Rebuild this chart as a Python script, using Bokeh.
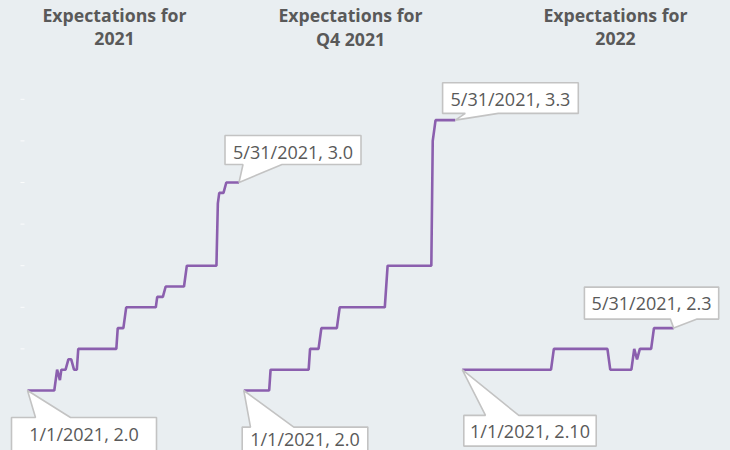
import pandas as pd
from bokeh.plotting import figure
from bokeh.models import Range1d
from bokeh.embed import file_html
from bokeh.resources import INLINE
from bokeh.core.properties import value

# ---------------- data ----------------
dates_2021 = ["2021-01-01", "2021-01-20", "2021-01-22", "2021-01-24", "2021-01-25", "2021-01-28",
              "2021-01-30", "2021-02-01", "2021-02-03", "2021-02-05", "2021-02-06", "2021-03-05",
              "2021-03-06", "2021-03-10", "2021-03-12", "2021-04-02", "2021-04-03", "2021-04-07",
              "2021-04-09", "2021-04-22", "2021-04-24", "2021-05-15", "2021-05-16", "2021-05-17",
              "2021-05-20", "2021-05-22", "2021-05-31"]
vals_2021 = [2.00, 2.00, 2.10, 2.05, 2.10, 2.10,
             2.15, 2.15, 2.10, 2.10, 2.20, 2.20,
             2.30, 2.30, 2.40, 2.40, 2.45, 2.45,
             2.50, 2.50, 2.60, 2.60, 2.90, 2.95,
             2.95, 3.00, 3.00]

dates_q4 = ["2021-01-01", "2021-01-19", "2021-01-20", "2021-02-16", "2021-02-17", "2021-02-23",
            "2021-02-25", "2021-03-08", "2021-03-10", "2021-04-11", "2021-04-13", "2021-05-14",
            "2021-05-15", "2021-05-17", "2021-05-31"]
vals_q4 = [2.00, 2.00, 2.10, 2.10, 2.20, 2.20,
           2.30, 2.30, 2.40, 2.40, 2.60, 2.60,
           3.20, 3.30, 3.30]

dates_2022 = ["2021-01-01", "2021-03-05", "2021-03-07", "2021-04-14", "2021-04-16", "2021-05-01",
              "2021-05-03", "2021-05-05", "2021-05-07", "2021-05-15", "2021-05-17", "2021-05-31"]
vals_2022 = [2.10, 2.10, 2.20, 2.20, 2.10, 2.10,
             2.20, 2.15, 2.20, 2.20, 2.30, 2.30]

title_line1 = "Expectations for"
title_line2 = ["2021", "Q4 2021", "2022"]
start_labels = ["1/1/2021, 2.0", "1/1/2021, 2.0", "1/1/2021, 2.10"]
end_labels = ["5/31/2021, 3.0", "5/31/2021, 3.3", "5/31/2021, 2.3"]
tick_values = [2.2, 2.4, 2.6, 2.8, 3.0, 3.2, 3.4]

# ---------------- layout ----------------
W, H = 730, 450
PX_DAY = 1.41
PX_UNIT = 208.0
BG = "#e9eef1"
PURPLE = "#8b5fae"
TXT = "#595959"
BORDER = "#c3c3c3"

START = pd.Timestamp("2021-01-01")
panel_px = [27.0, 243.3, 461.7]            # canvas px of Jan 1 for each panel
x0 = -panel_px[0] / PX_DAY
y_end = 2.0 + 390 / PX_UNIT
x_range = Range1d(x0, x0 + W / PX_DAY)
y_range = Range1d(y_end - H / PX_UNIT, y_end)


def px_to_data(cx, cy):
    return x0 + cx / PX_DAY, y_end - cy / PX_UNIT


def data_to_py(v):
    return (y_end - v) * PX_UNIT


p = figure(width=W, height=H, output_backend="svg", toolbar_location=None,
           x_range=x_range, y_range=y_range, x_axis_type=None, y_axis_type=None,
           min_border=0, outline_line_color=None,
           background_fill_color=BG, border_fill_color=BG)
p.grid.visible = False

# faint white tick marks on the left
tx0, _ = px_to_data(20, 0)
tx1, _ = px_to_data(24, 0)
p.segment(x0=[tx0] * len(tick_values), x1=[tx1] * len(tick_values),
          y0=tick_values, y1=tick_values, line_color="white", line_width=1, line_alpha=0.8)

series = [(dates_2021, vals_2021), (dates_q4, vals_q4), (dates_2022, vals_2022)]
offsets = [(px - panel_px[0]) / PX_DAY for px in panel_px]

# callout geometry (px offsets relative to anchor: left, right, top, bottom, base1, base2)
start_geo = [(-16, 129, 27, 80, 8, 43), (-1.6, 124, 36.6, 80, 6.7, 50), (1.6, 134, 45.7, 76.4, 23.3, 56.6)]
end_geo = [(-14, 122, -47, -18, 4, 43), (-12.7, 123, -37.3, -6.7, 10, 43), (-89.3, 45, -41, -9, -3.3, 23.4)]


def callout(ax, ay, geo, label):
    left, right, top, bottom, b1, b2 = geo
    if top > 0:
        pts = [(left, top), (b1, top), (0, 0), (b2, top), (right, top), (right, bottom), (left, bottom)]
    else:
        pts = [(left, top), (right, top), (right, bottom), (b2, bottom), (0, 0), (b1, bottom), (left, bottom)]
    xs = [ax + dx / PX_DAY for dx, _ in pts]
    ys = [ay - dy / PX_UNIT for _, dy in pts]
    p.patch(xs, ys, fill_color="white", line_color=BORDER, line_width=1.6)
    # keep the text inside the canvas
    ty_px = min(data_to_py(ay) + top + 16, H - 12)
    p.text(x=[ax + (left + right) / 2 / PX_DAY], y=[y_end - ty_px / PX_UNIT], text=[label],
           text_font=value("Open Sans"), text_font_size="18px", text_color=TXT,
           text_align="center", text_baseline="alphabetic")


for i, (dates, vals) in enumerate(series):
    days = [(pd.Timestamp(d) - START).days + offsets[i] for d in dates]
    p.line(days, vals, line_color=PURPLE, line_width=2.6)

for i, (dates, vals) in enumerate(series):
    days = [(pd.Timestamp(d) - START).days + offsets[i] for d in dates]
    callout(days[-1], vals[-1], end_geo[i], end_labels[i])
    callout(days[0], vals[0], start_geo[i], start_labels[i])

# titles
title_cx = [114, 350, 615]
for i in range(3):
    tx, ty1 = px_to_data(title_cx[i], 14.7)
    _, ty2 = px_to_data(title_cx[i], 38)
    p.text(x=[tx, tx], y=[ty1, ty2], text=[title_line1, title_line2[i]],
           text_font=value("Open Sans"), text_font_size="17.7px", text_font_style="bold",
           text_color=TXT, text_align="center", text_baseline="alphabetic")

html = file_html(p, INLINE)
html = html.replace("</head>", "<style>html, body {background: %s;}</style></head>" % BG, 1)
open("out.html", "w").write(html)
